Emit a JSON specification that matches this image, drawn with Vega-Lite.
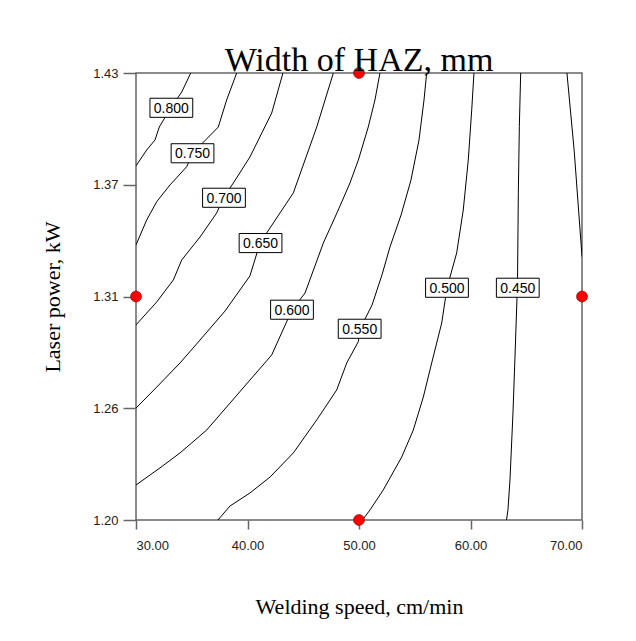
{
  "$schema": "https://vega.github.io/schema/vega-lite/v6.json",
  "width": 446,
  "height": 447,
  "autosize": {"type": "none"},
  "padding": {"left": 136, "top": 73, "right": 54, "bottom": 121},
  "background": "white",
  "title": {"text": "Width of HAZ, mm", "font": "Liberation Serif", "fontSize": 34, "fontWeight": "normal", "color": "black", "anchor": "middle", "baseline": "alphabetic", "offset": -7, "dy": 32},
  "config": {
    "view": {"stroke": "#666666", "strokeWidth": 1.5},
    "axis": {"grid": false, "domain": false, "labelFont": "Liberation Sans", "labelFontSize": 13, "labelColor": "#222222", "tickColor": "#666666", "tickWidth": 1.5, "titleFont": "Liberation Serif", "titleFontSize": 22, "titleFontWeight": "normal", "titleColor": "black"}
  },
  "datasets": {
    "contours": [
      {"level":"0.800","i":0,"x":34.91,"y":1.43},{"level":"0.800","i":1,"x":34.10,"y":1.4202},{"level":"0.800","i":2,"x":33.11,"y":1.412},{"level":"0.800","i":3,"x":32.09,"y":1.4022},{"level":"0.800","i":4,"x":31.70,"y":1.3955},{"level":"0.800","i":5,"x":30.96,"y":1.3904},{"level":"0.800","i":6,"x":30.0,"y":1.3822},
      {"level":"0.750","i":0,"x":39.03,"y":1.43},{"level":"0.750","i":1,"x":38.13,"y":1.4161},{"level":"0.750","i":2,"x":37.38,"y":1.4022},{"level":"0.750","i":3,"x":35.09,"y":1.3888},{"level":"0.750","i":4,"x":34.55,"y":1.3818},{"level":"0.750","i":5,"x":33.05,"y":1.3724},{"level":"0.750","i":6,"x":31.86,"y":1.3638},{"level":"0.750","i":7,"x":30.96,"y":1.3544},{"level":"0.750","i":8,"x":30.0,"y":1.3415},
      {"level":"0.700","i":0,"x":43.18,"y":1.43},{"level":"0.700","i":1,"x":42.17,"y":1.4094},{"level":"0.700","i":2,"x":40.22,"y":1.3868},{"level":"0.700","i":3,"x":38.73,"y":1.3734},{"level":"0.700","i":4,"x":37.83,"y":1.3657},{"level":"0.700","i":5,"x":37.24,"y":1.358},{"level":"0.700","i":6,"x":35.74,"y":1.3456},{"level":"0.700","i":7,"x":34.10,"y":1.3338},{"level":"0.700","i":8,"x":33.35,"y":1.3235},{"level":"0.700","i":9,"x":31.86,"y":1.3122},{"level":"0.700","i":10,"x":30.0,"y":1.3004},
      {"level":"0.650","i":0,"x":47.70,"y":1.43},{"level":"0.650","i":1,"x":46.21,"y":1.4022},{"level":"0.650","i":2,"x":44.11,"y":1.3683},{"level":"0.650","i":3,"x":41.12,"y":1.3425},{"level":"0.650","i":4,"x":40.22,"y":1.3256},{"level":"0.650","i":5,"x":37.98,"y":1.3075},{"level":"0.650","i":6,"x":35.74,"y":1.2926},{"level":"0.650","i":7,"x":33.95,"y":1.2808},{"level":"0.650","i":8,"x":31.86,"y":1.2684},{"level":"0.650","i":9,"x":30.0,"y":1.2576},
      {"level":"0.600","i":0,"x":51.88,"y":1.43},{"level":"0.600","i":1,"x":51.43,"y":1.4161},{"level":"0.600","i":2,"x":50.83,"y":1.4022},{"level":"0.600","i":3,"x":49.94,"y":1.3852},{"level":"0.600","i":4,"x":49.19,"y":1.3734},{"level":"0.600","i":5,"x":48.14,"y":1.3595},{"level":"0.600","i":6,"x":46.80,"y":1.3425},{"level":"0.600","i":7,"x":45.16,"y":1.3168},{"level":"0.600","i":8,"x":43.99,"y":1.3081},{"level":"0.600","i":9,"x":42.17,"y":1.2849},{"level":"0.600","i":10,"x":40.22,"y":1.272},{"level":"0.600","i":11,"x":36.34,"y":1.2463},{"level":"0.600","i":12,"x":33.95,"y":1.2345},{"level":"0.600","i":13,"x":32.15,"y":1.2268},{"level":"0.600","i":14,"x":30.0,"y":1.218},
      {"level":"0.550","i":0,"x":56.07,"y":1.43},{"level":"0.550","i":1,"x":55.83,"y":1.4161},{"level":"0.550","i":2,"x":55.38,"y":1.3955},{"level":"0.550","i":3,"x":54.66,"y":1.3749},{"level":"0.550","i":4,"x":53.77,"y":1.3569},{"level":"0.550","i":5,"x":52.78,"y":1.3405},{"level":"0.550","i":6,"x":52.06,"y":1.3261},{"level":"0.550","i":7,"x":51.17,"y":1.3106},{"level":"0.550","i":8,"x":50.09,"y":1.2983},{"level":"0.550","i":9,"x":49.94,"y":1.2918},{"level":"0.550","i":10,"x":48.90,"y":1.2808},{"level":"0.550","i":11,"x":48.00,"y":1.2669},{"level":"0.550","i":12,"x":46.21,"y":1.2515},{"level":"0.550","i":13,"x":44.11,"y":1.2345},{"level":"0.550","i":14,"x":42.02,"y":1.2221},{"level":"0.550","i":15,"x":40.22,"y":1.2139},{"level":"0.550","i":16,"x":38.43,"y":1.2072},{"level":"0.550","i":17,"x":37.35,"y":1.2},
      {"level":"0.500","i":0,"x":60.31,"y":1.43},{"level":"0.500","i":1,"x":60.11,"y":1.411},{"level":"0.500","i":2,"x":59.80,"y":1.3852},{"level":"0.500","i":3,"x":59.35,"y":1.3595},{"level":"0.500","i":4,"x":58.76,"y":1.3374},{"level":"0.500","i":5,"x":57.89,"y":1.3194},{"level":"0.500","i":6,"x":57.42,"y":1.3014},{"level":"0.500","i":7,"x":56.52,"y":1.2808},{"level":"0.500","i":8,"x":55.77,"y":1.2633},{"level":"0.500","i":9,"x":54.87,"y":1.2463},{"level":"0.500","i":10,"x":53.83,"y":1.2324},{"level":"0.500","i":11,"x":52.18,"y":1.2155},{"level":"0.500","i":12,"x":50.99,"y":1.2052},{"level":"0.500","i":13,"x":50.31,"y":1.2},
      {"level":"0.450","i":0,"x":64.50,"y":1.43},{"level":"0.450","i":1,"x":64.38,"y":1.4024},{"level":"0.450","i":2,"x":64.29,"y":1.3681},{"level":"0.450","i":3,"x":64.22,"y":1.325},{"level":"0.450","i":4,"x":64.17,"y":1.3142},{"level":"0.450","i":5,"x":63.99,"y":1.2839},{"level":"0.450","i":6,"x":63.81,"y":1.2551},{"level":"0.450","i":7,"x":63.54,"y":1.2206},{"level":"0.450","i":8,"x":63.36,"y":1.2052},{"level":"0.450","i":9,"x":63.23,"y":1.2},
      {"level":"0.400","i":0,"x":68.65,"y":1.43},{"level":"0.400","i":1,"x":69.30,"y":1.39},{"level":"0.400","i":2,"x":70.0,"y":1.3356}
    ],
    "labels": [
      {"label":"0.800","x":33.17,"y":1.4121},
      {"label":"0.750","x":35.07,"y":1.3887},
      {"label":"0.700","x":37.89,"y":1.3658},
      {"label":"0.650","x":41.17,"y":1.3425},
      {"label":"0.600","x":43.99,"y":1.3082},
      {"label":"0.550","x":50.06,"y":1.2984},
      {"label":"0.500","x":57.89,"y":1.3195},
      {"label":"0.450","x":64.24,"y":1.3195}
    ],
    "points": [
      {"x":50,"y":1.43},{"x":30,"y":1.315},{"x":70,"y":1.315},{"x":50,"y":1.2}
    ]
  },
  "layer": [
    {
      "data": {"name": "contours"},
      "mark": {"type": "line", "color": "black", "strokeWidth": 1, "clip": true},
      "encoding": {
        "x": {"field": "x", "type": "quantitative", "scale": {"domain": [30, 70], "nice": false, "zero": false},
              "axis": {"values": [30, 40, 50, 60, 70], "format": ".2f", "title": "Welding speed, cm/min", "tickSize": 9, "labelPadding": 10, "titlePadding": 44}},
        "y": {"field": "y", "type": "quantitative", "scale": {"domain": [1.2, 1.43], "nice": false, "zero": false},
              "axis": {"values": [1.2, 1.2575, 1.315, 1.3725, 1.43], "format": ".2f", "title": "Laser power, kW", "tickSize": 13, "labelPadding": 5, "titlePadding": 28}},
        "detail": {"field": "level"},
        "order": {"field": "i", "type": "quantitative"}
      }
    },
    {
      "data": {"name": "labels"},
      "mark": {"type": "point", "shape": "M-1,-0.446H1V0.446H-1Z", "size": 1830, "filled": true, "fill": "white", "fillOpacity": 1, "stroke": "black", "strokeWidth": 1, "opacity": 1},
      "encoding": {
        "x": {"field": "x", "type": "quantitative"},
        "y": {"field": "y", "type": "quantitative"}
      }
    },
    {
      "data": {"name": "labels"},
      "mark": {"type": "text", "font": "Liberation Sans", "fontSize": 14, "color": "black", "baseline": "middle", "align": "center", "dy": 1},
      "encoding": {
        "x": {"field": "x", "type": "quantitative"},
        "y": {"field": "y", "type": "quantitative"},
        "text": {"field": "label"}
      }
    },
    {
      "data": {"name": "points"},
      "mark": {"type": "point", "shape": "circle", "filled": true, "fill": "red", "stroke": "#700000", "strokeWidth": 0.6, "size": 120, "opacity": 1, "clip": false},
      "encoding": {
        "x": {"field": "x", "type": "quantitative"},
        "y": {"field": "y", "type": "quantitative"}
      }
    }
  ]
}
